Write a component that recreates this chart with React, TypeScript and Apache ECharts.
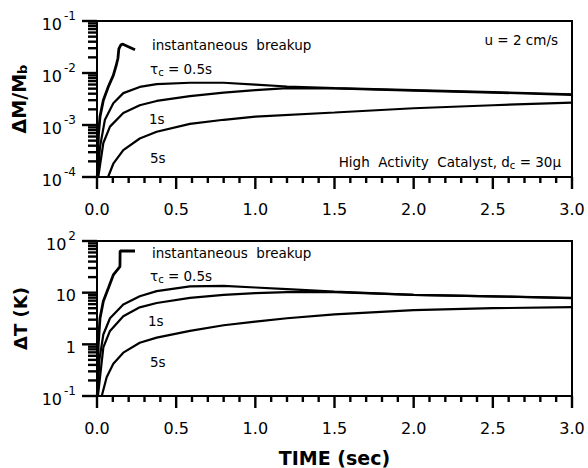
import React, { useEffect, useRef } from "react";
import * as echarts from "echarts";

// ---- data (time in s, value) ----
const dmInstant = [
  [0.002, 1.0e-4], [0.006, 3.5e-4], [0.01, 7.0e-4], [0.019, 1.45e-3], [0.04, 3.0e-3],
  [0.072, 5.5e-3], [0.103, 9.0e-3], [0.12, 0.0135], [0.132, 0.019], [0.138, 0.029],
  [0.15, 0.0345], [0.16, 0.036], [0.24, 0.028],
];
const dmTau05 = [
  [0.004, 1.0e-4], [0.019, 3.8e-4], [0.05, 1.26e-3], [0.103, 2.63e-3], [0.166, 4.1e-3],
  [0.27, 5.4e-3], [0.377, 6.1e-3], [0.587, 6.5e-3], [0.8, 6.5e-3], [1.0, 6.0e-3],
  [1.2, 5.5e-3], [1.5, 5.1e-3], [2.0, 4.7e-3], [2.5, 4.3e-3], [3.0, 3.9e-3],
];
const dmTau1 = [
  [0.008, 1.0e-4], [0.04, 4.5e-4], [0.082, 9.3e-4], [0.166, 1.7e-3], [0.27, 2.4e-3],
  [0.377, 2.9e-3], [0.587, 3.6e-3], [0.8, 4.2e-3], [1.0, 4.7e-3], [1.2, 5.1e-3],
  [1.5, 5.05e-3], [2.0, 4.6e-3], [2.5, 4.2e-3], [3.0, 3.8e-3],
];
const dmTau5 = [
  [0.07, 1.0e-4], [0.103, 1.8e-4], [0.166, 3.3e-4], [0.27, 5.5e-4], [0.377, 7.4e-4],
  [0.587, 1.05e-3], [0.8, 1.26e-3], [1.0, 1.45e-3], [1.5, 1.74e-3], [2.0, 2.1e-3],
  [2.5, 2.4e-3], [3.0, 2.7e-3],
];

const dtInstant = [
  [0.002, 0.1], [0.004, 0.3], [0.008, 1.0], [0.019, 3.2], [0.04, 6.8], [0.072, 12.3],
  [0.103, 22], [0.145, 32], [0.146, 64], [0.24, 64],
];
const dtTau05 = [
  [0.004, 0.1], [0.015, 0.5], [0.04, 1.55], [0.082, 3.2], [0.166, 5.9], [0.27, 8.5],
  [0.377, 10.7], [0.587, 13.2], [0.8, 13.5], [1.0, 12.6], [1.2, 11.7], [1.5, 10.5],
  [2.0, 9.1], [2.5, 8.5], [3.0, 7.9],
];
const dtTau1 = [
  [0.006, 0.1], [0.04, 0.87], [0.082, 1.82], [0.166, 3.5], [0.27, 5.2], [0.377, 6.3],
  [0.587, 7.9], [0.8, 9.1], [1.0, 9.8], [1.2, 10.2], [1.5, 10.2], [2.0, 9.1],
  [2.5, 8.5], [3.0, 7.8],
];
const dtTau5 = [
  [0.03, 0.1], [0.061, 0.23], [0.103, 0.42], [0.166, 0.69], [0.27, 1.07], [0.377, 1.35],
  [0.587, 1.82], [0.8, 2.34], [1.0, 2.75], [1.2, 3.2], [1.5, 3.8], [2.0, 4.6],
  [2.5, 5.0], [3.0, 5.25],
];

// ---- axis ticks ----
const timeTicks = [0, 0.5, 1.0, 1.5, 2.0, 2.5, 3.0];
const timeMinorSteps = [0.1, 0.2, 0.3, 0.4];
const minorMultipliers = [2, 3, 4, 5, 6, 7, 8, 9];
const dmDecades = [1e-4, 1e-3, 1e-2, 1e-1];
const dtDecades = [0.1, 1, 10, 100];

const FONT = '"DejaVu Sans", "Liberation Sans", sans-serif';
const INK = "#000";

function supLabel(v: number): string {
  const e = Math.round(Math.log10(v));
  if (e === 0) return "{b|1}";
  if (e === 1) return "{b|10}";
  return "{b|10}{s|" + (e < 0 ? "-" + -e : String(e)) + "}";
}

const labelRich = {
  b: { fontSize: 16, fontFamily: FONT, color: INK, lineHeight: 22, verticalAlign: "bottom" },
  s: { fontSize: 12, fontFamily: FONT, color: INK, lineHeight: 22, verticalAlign: "top", padding: [0, 0, 0, 2] },
};

const subRich = {
  sub: { fontSize: 10, fontFamily: FONT, color: INK, verticalAlign: "bottom", padding: [8, 0, 0, 0] },
};

export default function App() {
  const ref = useRef<HTMLDivElement>(null);
  useEffect(() => {
    if (!ref.current) return;
    const chart = echarts.init(ref.current, null, { renderer: "svg" });

    const xAxisBase = (gridIndex: number, withName: boolean) => ({
      type: "value",
      gridIndex,
      min: 0,
      max: 3,
      interval: 0.5,
      name: withName ? "TIME (sec)" : "",
      nameLocation: "middle",
      nameGap: 52,
      nameTextStyle: { fontSize: 19, fontWeight: "bold", fontFamily: FONT, color: INK },
      axisLine: { show: true, lineStyle: { color: INK, width: 2 } },
      axisTick: { show: false },
      minorTick: { show: false },
      splitLine: { show: false },
      axisLabel: {
        margin: 24,
        fontSize: 16,
        fontFamily: FONT,
        color: INK,
        formatter: (v: number) => (timeTicks.includes(v) ? v.toFixed(1) : ""),
      },
    });

    const yAxisBase = (gridIndex: number, min: number, max: number, name: string, size: number) => ({
      type: "log",
      logBase: 10,
      gridIndex,
      min,
      max,
      name,
      nameLocation: "middle",
      nameRotate: 90,
      nameGap: 68,
      nameTextStyle: {
        fontSize: size,
        fontWeight: "bold",
        fontFamily: FONT,
        color: INK,
        rich: { sub: { fontSize: 13, fontWeight: "bold", fontFamily: FONT, color: INK, padding: [8, 0, 0, 0] } },
      },
      axisLine: { show: true, lineStyle: { color: INK, width: 2 } },
      axisTick: { show: false },
      splitLine: { show: false },
      axisLabel: {
        margin: 21,
        formatter: (v: number) => supLabel(v),
        rich: labelRich,
      },
    });

    const xTickData = (yMin: number) => {
      const out: number[][] = timeTicks.map((t) => [t, yMin, 1]);
      timeTicks.slice(0, -1).forEach((t) =>
        timeMinorSteps.forEach((s) => out.push([Math.round((t + s) * 10) / 10, yMin, 0]))
      );
      return out;
    };
    const yTickData = (decades: number[]) => {
      const out: number[][] = decades.map((d) => [0, d, 1]);
      decades.slice(0, -1).forEach((d) => minorMultipliers.forEach((m) => out.push([0, m * d, 0])));
      return out;
    };

    const xTickSeries = (idx: number, yMin: number) => ({
      type: "custom",
      xAxisIndex: idx,
      yAxisIndex: idx,
      clip: false,
      silent: true,
      data: xTickData(yMin),
      renderItem: (_p: any, api: any) => {
        const p = api.coord([api.value(0), api.value(1)]);
        const len = api.value(2) ? 12 : 6;
        return {
          type: "line",
          shape: { x1: p[0], y1: p[1], x2: p[0], y2: p[1] + len },
          style: { stroke: INK, lineWidth: 2.4 },
        };
      },
    });

    const yTickSeries = (idx: number, decades: number[]) => ({
      type: "custom",
      xAxisIndex: idx,
      yAxisIndex: idx,
      clip: false,
      silent: true,
      data: yTickData(decades),
      renderItem: (_p: any, api: any) => {
        const p = api.coord([api.value(0), api.value(1)]);
        const len = api.value(2) ? 15 : 9;
        return {
          type: "line",
          shape: { x1: p[0] - len, y1: p[1], x2: p[0], y2: p[1] },
          style: { stroke: INK, lineWidth: 2.4 },
        };
      },
    });

    const curve = (idx: number, data: number[][], width: number) => ({
      type: "line",
      xAxisIndex: idx,
      yAxisIndex: idx,
      data,
      showSymbol: false,
      lineStyle: { color: INK, width },
    });

    const note = (text: string, pos: any) => ({
      text,
      ...pos,
      padding: 0,
      textStyle: {
        fontSize: 13.5,
        fontWeight: "normal",
        fontFamily: FONT,
        color: INK,
        lineHeight: 16,
        rich: subRich,
      },
    });

    chart.setOption({
      animation: false,
      backgroundColor: "#fff",
      title: [
        note("instantaneous  breakup", { left: 152, top: 37 }),
        note("τ{sub|c} = 0.5s", { left: 150, top: 61 }),
        note("1s", { left: 149, top: 111 }),
        note("5s", { left: 150, top: 150 }),
        note("u = 2 cm/s", { right: 30, top: 32 }),
        note("High  Activity  Catalyst, d{sub|c} = 30μ", { right: 27, top: 154 }),
        note("instantaneous  breakup", { left: 152, top: 245 }),
        note("τ{sub|c} = 0.5s", { left: 150, top: 268 }),
        note("1s", { left: 148, top: 313 }),
        note("5s", { left: 150, top: 354 }),
      ],
      grid: [
        { left: 97, right: 16, top: 21, height: 156, show: true, borderColor: INK, borderWidth: 2 },
        { left: 97, right: 16, top: 241, height: 156, show: true, borderColor: INK, borderWidth: 2 },
      ],
      xAxis: [xAxisBase(0, false), xAxisBase(1, true)],
      yAxis: [
        yAxisBase(0, 1e-4, 1e-1, "ΔM/M{sub|b}", 19),
        yAxisBase(1, 0.1, 100, "ΔT (K)", 18),
      ],
      series: [
        curve(0, dmInstant, 2.8),
        curve(0, dmTau05, 2.2),
        curve(0, dmTau1, 2.2),
        curve(0, dmTau5, 2.2),
        curve(1, dtInstant, 2.8),
        curve(1, dtTau05, 2.2),
        curve(1, dtTau1, 2.2),
        curve(1, dtTau5, 2.2),
        xTickSeries(0, 1e-4),
        xTickSeries(1, 0.1),
        yTickSeries(0, dmDecades),
        yTickSeries(1, dtDecades),
      ],
    });
    return () => chart.dispose();
  }, []);
  return (
    <div
      ref={ref}
      style={{ position: "fixed", left: 0, top: 0, width: 588, height: 468, background: "#fff" }}
    />
  );
}
